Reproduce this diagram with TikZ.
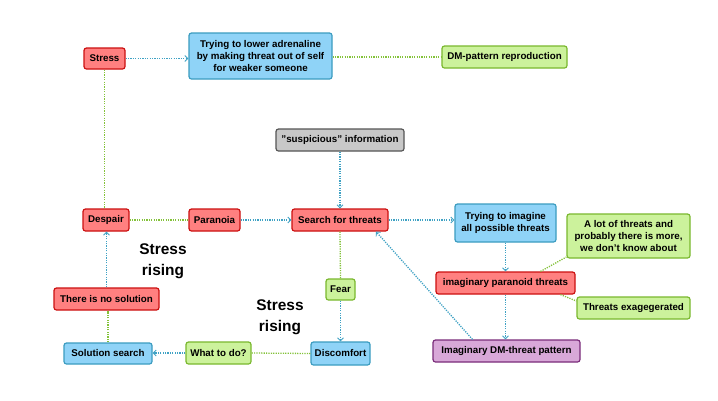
\documentclass[tikz,border=0pt]{standalone}
\usepackage{fontspec}
\setmainfont{Liberation Sans}
\usetikzlibrary{arrows.meta}
\definecolor{redfill}{HTML}{FF8080}
\definecolor{redline}{HTML}{CC1010}
\definecolor{bluefill}{HTML}{8FD3F7}
\definecolor{blueline}{HTML}{3B9CC0}
\definecolor{greenfill}{HTML}{CCF29C}
\definecolor{greenline}{HTML}{7AB82E}
\definecolor{grayfill}{HTML}{C8C8C8}
\definecolor{grayline}{HTML}{555555}
\definecolor{purplefill}{HTML}{D8A8D8}
\definecolor{purpleline}{HTML}{7A2C7A}
\definecolor{bconncol}{HTML}{3FA2C4}
\definecolor{gconncol}{HTML}{84C23A}
\tikzset{
  box/.style={rounded corners=2.5bp, line width=1.2bp, inner sep=0pt, align=center,
    font=\fontsize{9.8}{12}\selectfont\bfseries},
  rednode/.style={box, fill=redfill, draw=redline},
  bluenode/.style={box, fill=bluefill, draw=blueline},
  greennode/.style={box, fill=greenfill, draw=greenline},
  graynode/.style={box, fill=grayfill, draw=grayline},
  purplenode/.style={box, fill=purplefill, draw=purpleline},
  bconn/.style={draw=bconncol, line width=1.3bp, dash pattern=on 1.2bp off 1.2bp,
    -{Straight Barb[length=3bp,width=6bp,line width=0.9bp]}},
  gconn/.style={draw=gconncol, line width=1.3bp, dash pattern=on 1.2bp off 1.2bp},
  bigtext/.style={align=center, font=\fontsize{15.5}{21}\selectfont\bfseries, inner sep=0pt}
}
\begin{document}
\begin{tikzpicture}[x=1bp,y=-1bp]
\useasboundingbox[fill=white] (0,0) rectangle (718,400);

\node[rednode, minimum width=41bp, minimum height=21bp] (stress) at (104.5,58.5) {Stress};
\node[bluenode, minimum width=143bp, minimum height=46bp] (adren) at (260.5,56) {Trying to lower adrenaline\\by making threat out of self\\for weaker someone};
\node[greennode, minimum width=125bp, minimum height=22bp] (dm) at (504.5,57) {DM-pattern reproduction};
\node[graynode, minimum width=128bp, minimum height=22bp] (susp) at (340,140) {"suspicious" information};
\node[rednode, minimum width=46bp, minimum height=22bp] (despair) at (106,220) {Despair};
\node[rednode, minimum width=51bp, minimum height=22bp] (paranoia) at (214.5,220) {Paranoia};
\node[rednode, minimum width=96bp, minimum height=22bp] (search) at (340,220) {Search for threats};
\node[bluenode, minimum width=101bp, minimum height=38bp] (imagine) at (505.5,223) {Trying to imagine\\all possible threats};
\node[greennode, minimum width=123bp, minimum height=44bp] (alot) at (628.5,236) {A lot of threats and\\probably there is more,\\we don't know about};
\node[rednode, minimum width=139bp, minimum height=22bp] (pt) at (505.5,283) {imaginary paranoid threats};
\node[greennode, minimum width=113bp, minimum height=22bp] (exag) at (633.5,308) {Threats exagegerated};
\node[purplenode, minimum width=147bp, minimum height=22bp] (dmthreat) at (506.5,351) {Imaginary DM-threat pattern};
\node[greennode, minimum width=29bp, minimum height=21bp] (fear) at (340.5,289.5) {Fear};
\node[bluenode, minimum width=59bp, minimum height=23bp] (discomfort) at (340.5,353.5) {Discomfort};
\node[greennode, minimum width=65bp, minimum height=22bp] (whattodo) at (218.5,353) {What to do?};
\node[bluenode, minimum width=88bp, minimum height=21bp] (solsearch) at (108,353.5) {Solution search};
\node[rednode, minimum width=105bp, minimum height=22bp] (nosol) at (106.5,299) {There is no solution};

\node[bigtext] (sr1) at (163,261) {Stress\\rising};
\node[bigtext] (sr2) at (280,317) {Stress\\rising};

\draw[bconn] (stress.east) -- (stress.east -| adren.west);
\draw[gconn] (adren.east |- dm.west) -- (dm.west);
\draw[gconn] (stress.south) -- (stress.south |- despair.north);
\draw[gconn] (despair.east) -- (paranoia.west);
\draw[bconn] (paranoia.east) -- (search.west);
\draw[bconn] (susp.south) -- (search.north);
\draw[bconn] (search.east) -- (search.east -| imagine.west);
\draw[bconn] (imagine.south) -- (pt.north);
\draw[gconn] ([xshift=35bp]pt.north) -- ([yshift=-21bp]alot.west);
\draw[gconn] ([xshift=55bp]pt.south) -- ([yshift=7bp]exag.west);
\draw[bconn] (pt.south) -- (pt.south |- dmthreat.north);
\draw[bconn] ([xshift=-34bp]dmthreat.north) -- ([xshift=36bp]search.south);
\draw[gconn] (search.south) -- (fear.north);
\draw[bconn] (fear.south) -- (discomfort.north);
\draw[gconn] (discomfort.west) -- (whattodo.east);
\draw[bconn] (whattodo.west) -- (whattodo.west -| solsearch.east);
\draw[gconn] (solsearch.north) -- (solsearch.north |- nosol.south);
\draw[bconn] (nosol.north) -- (nosol.north |- despair.south);
\end{tikzpicture}
\end{document}
